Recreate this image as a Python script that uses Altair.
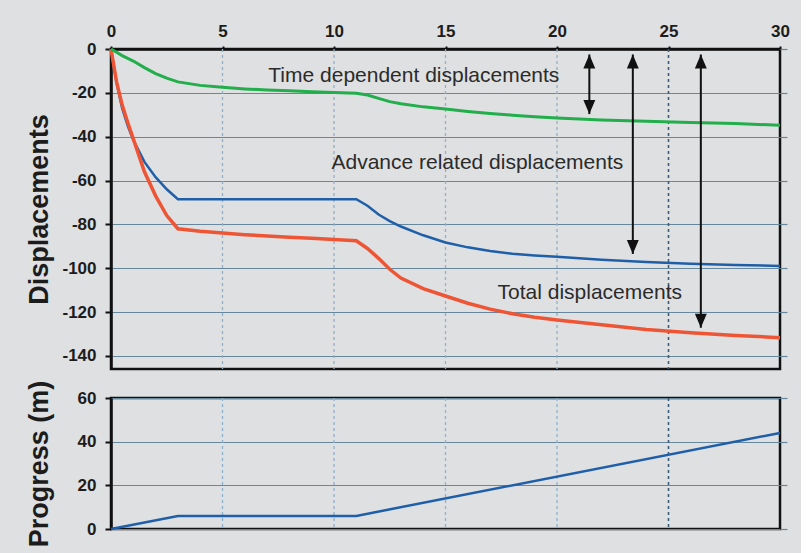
import altair as alt
import pandas as pd

# Elapsed time (days) shared by the three displacement curves
t = [0, 0.25, 0.5, 0.75, 1, 1.5, 2, 2.5, 3, 4, 5, 6, 7, 8, 9, 10, 11,
     11.5, 12, 12.5, 13, 14, 15, 16, 17, 18, 19, 20, 22, 24, 26, 28, 30]

time_dependent = [0, -1.5, -3, -4.3, -5.5, -8.5, -11.2, -13.3, -15, -16.6, -17.5,
                  -18.2, -18.7, -19.1, -19.5, -19.8, -20.2, -21, -22.5, -24, -25,
                  -26.4, -27.4, -28.5, -29.4, -30.2, -30.9, -31.5, -32.4, -33,
                  -33.5, -34, -34.8]
advance_related = [0, -15.5, -27, -35, -41.5, -51.5, -58.5, -64, -68.5, -68.5,
                   -68.5, -68.5, -68.5, -68.5, -68.5, -68.5, -68.5, -71.5, -75.5,
                   -78.5, -81, -85, -88.3, -90.5, -92.2, -93.4, -94.2, -94.8,
                   -96.2, -97.2, -98, -98.5, -99]
total = [0, -15, -25.5, -33.5, -41, -56, -67, -76, -82, -83.2, -84, -84.7, -85.3,
         -85.9, -86.4, -86.9, -87.5, -91, -95.5, -100.5, -104.5, -109.3, -112.7,
         -116, -118.7, -120.8, -122.4, -123.6, -125.8, -128, -129.5, -130.7, -131.7]

# Face advance (m)
progress_t = [0, 3, 11, 30]
progress_m = [0, 6, 6, 44]

# Double-headed arrows marking each displacement component
arrow_t = [21.45, 23.4, 26.45]
arrow_top = [-2.5, -2.5, -2.5]
arrow_bottom = [-29.7, -93.5, -127.2]

# Curve labels
label_text = ["Time dependent displacements", "Advance related displacements",
              "Total displacements"]
label_t = [13.58, 16.43, 21.47]
label_y = [-15.2, -54.7, -114.2]

x_ticks = [0, 5, 10, 15, 20, 25, 30]
grid_light = [5, 10, 15, 20]
grid_dark = [25]
disp_ticks = [0, -20, -40, -60, -80, -100, -120, -140]
prog_ticks = [0, 20, 40, 60]

FONT = "Liberation Sans"
GRID_H = "#66879c"
GRID_V = "#8fb1cb"
GRID_V_DARK = "#3b5d79"
HYPHEN_LABEL = "datum.value < 0 ? '-' + abs(datum.value) : '' + datum.value"

xs = alt.Scale(domain=[0, 30], nice=False, zero=False)
ys_top = alt.Scale(domain=[-146, 0], nice=False, zero=False)
ys_bot = alt.Scale(domain=[0, 60], nice=False, zero=False)

W = 669

df_green = pd.DataFrame({"t": t, "value": time_dependent})
df_blue = pd.DataFrame({"t": t, "value": advance_related})
df_red = pd.DataFrame({"t": t, "value": total})
df_arrows = pd.DataFrame({"t": arrow_t, "top": arrow_top, "bottom": arrow_bottom})
df_labels = pd.DataFrame({"t": label_t, "y": label_y, "text": label_text})
df_prog = pd.DataFrame({"t": progress_t, "value": progress_m})
df_grid_light = pd.DataFrame({"t": grid_light})
df_grid_dark = pd.DataFrame({"t": grid_dark})

# Top panel: time axis labelled along the top edge
x_top = alt.X("t:Q", scale=xs, title=None,
              axis=alt.Axis(orient="top", values=x_ticks, title=None, grid=False,
                            tickSize=3, labelPadding=6, labelFlush=False))
# Bottom panel: no time labels
x_bot = alt.X("t:Q", scale=xs, title=None,
              axis=alt.Axis(orient="bottom", values=x_ticks, labels=False,
                            ticks=False, domain=False, grid=False, title=None))


def vertical_grid(x_enc):
    """Dashed vertical grid, with the day-25 line drawn darker."""
    light = alt.Chart(df_grid_light).mark_rule(
        color=GRID_V, strokeWidth=1.3, strokeDash=[3, 3]
    ).encode(x=x_enc)
    dark = alt.Chart(df_grid_dark).mark_rule(
        color=GRID_V_DARK, strokeWidth=1.6, strokeDash=[3, 3]
    ).encode(x=x_enc)
    return light, dark


grid_top_light, grid_top_dark = vertical_grid(x_top)
grid_bot_light, grid_bot_dark = vertical_grid(x_bot)

# Invisible carriers for the left axis (with horizontal grid) and the
# right-hand tick stubs that continue the grid past the frame
left_top = alt.Chart(df_green).mark_line(opacity=0).encode(
    x=x_top,
    y=alt.Y("value:Q", scale=ys_top,
            axis=alt.Axis(values=disp_ticks, title="Displacements", grid=True,
                          gridColor=GRID_H, gridWidth=1.2, tickSize=6,
                          labelPadding=9, labelExpr=HYPHEN_LABEL,
                          titleX=-64, titleBaseline="alphabetic")),
)
right_top = alt.Chart(df_green).mark_line(opacity=0).encode(
    x=x_top,
    y=alt.Y("value:Q", scale=ys_top,
            axis=alt.Axis(orient="right", values=disp_ticks, labels=False,
                          domain=False, grid=False, tickSize=7,
                          tickColor=GRID_H, tickWidth=1.2, title=None)),
)

green = alt.Chart(df_green).mark_line(color="#21ae4b", strokeWidth=3).encode(
    x=x_top, y=alt.Y("value:Q", scale=ys_top, axis=None))

blue = alt.Chart(df_blue).mark_line(color="#1f5fa9", strokeWidth=2.5).encode(
    x=x_top, y=alt.Y("value:Q", scale=ys_top, axis=None))

red = alt.Chart(df_red).mark_line(color="#ee5535", strokeWidth=3.5).encode(
    x=x_top, y=alt.Y("value:Q", scale=ys_top, axis=None))

shafts = alt.Chart(df_arrows).mark_rule(color="#111111", strokeWidth=2).encode(
    x=x_top,
    y=alt.Y("top:Q", scale=ys_top, axis=None),
    y2="bottom:Q",
)
head_up = alt.Chart(df_arrows).mark_point(
    shape="M0,0L-0.85,2L0.85,2Z", filled=True, color="#111111", opacity=1,
    size=196, strokeWidth=0,
).encode(x=x_top, y=alt.Y("top:Q", scale=ys_top, axis=None))
head_down = alt.Chart(df_arrows).mark_point(
    shape="M0,0L-0.85,-2L0.85,-2Z", filled=True, color="#111111", opacity=1,
    size=196, strokeWidth=0,
).encode(x=x_top, y=alt.Y("bottom:Q", scale=ys_top, axis=None))

labels = alt.Chart(df_labels).mark_text(
    font=FONT, fontSize=21, color="#2b2b2b", align="center", baseline="alphabetic"
).encode(x=x_top, y=alt.Y("y:Q", scale=ys_top, axis=None), text="text:N")

top = alt.layer(
    left_top, right_top, grid_top_light, grid_top_dark, blue, red, green,
    shafts, head_up, head_down, labels
).resolve_axis(y="independent").properties(width=W, height=320)

left_bot = alt.Chart(df_prog).mark_line(opacity=0).encode(
    x=x_bot,
    y=alt.Y("value:Q", scale=ys_bot,
            axis=alt.Axis(values=prog_ticks, title="Progress (m)", grid=True,
                          gridColor=GRID_H, gridWidth=1.2, tickSize=6,
                          labelPadding=9, titleX=-64, titleBaseline="alphabetic")),
)
right_bot = alt.Chart(df_prog).mark_line(opacity=0).encode(
    x=x_bot,
    y=alt.Y("value:Q", scale=ys_bot,
            axis=alt.Axis(orient="right", values=prog_ticks, labels=False,
                          domain=False, grid=False, tickSize=7,
                          tickColor=GRID_H, tickWidth=1.2, title=None)),
)

prog = alt.Chart(df_prog).mark_line(color="#1f5fa9", strokeWidth=2.5).encode(
    x=x_bot, y=alt.Y("value:Q", scale=ys_bot, axis=None))

bottom = alt.layer(
    left_bot, right_bot, grid_bot_light, grid_bot_dark, prog
).resolve_axis(y="independent").properties(width=W, height=131)

chart = alt.vconcat(top, bottom, spacing=29, bounds="flush").properties(
    background="#dfe0e2",
    padding={"left": 23, "top": 20, "right": 10, "bottom": 10},
).configure(font=FONT).configure_view(
    stroke="#111111", strokeWidth=2.5
).configure_axis(
    labelFont=FONT, labelFontSize=17, labelFontWeight="bold", labelColor="#1c1c1c",
    titleFont=FONT, titleFontSize=27, titleFontWeight="bold", titleColor="#1c1c1c",
    domainColor="#111111", domainWidth=2.5, tickColor="#111111", tickWidth=2,
)

chart.save("out.html", embed_options={"renderer": "svg", "actions": False})
